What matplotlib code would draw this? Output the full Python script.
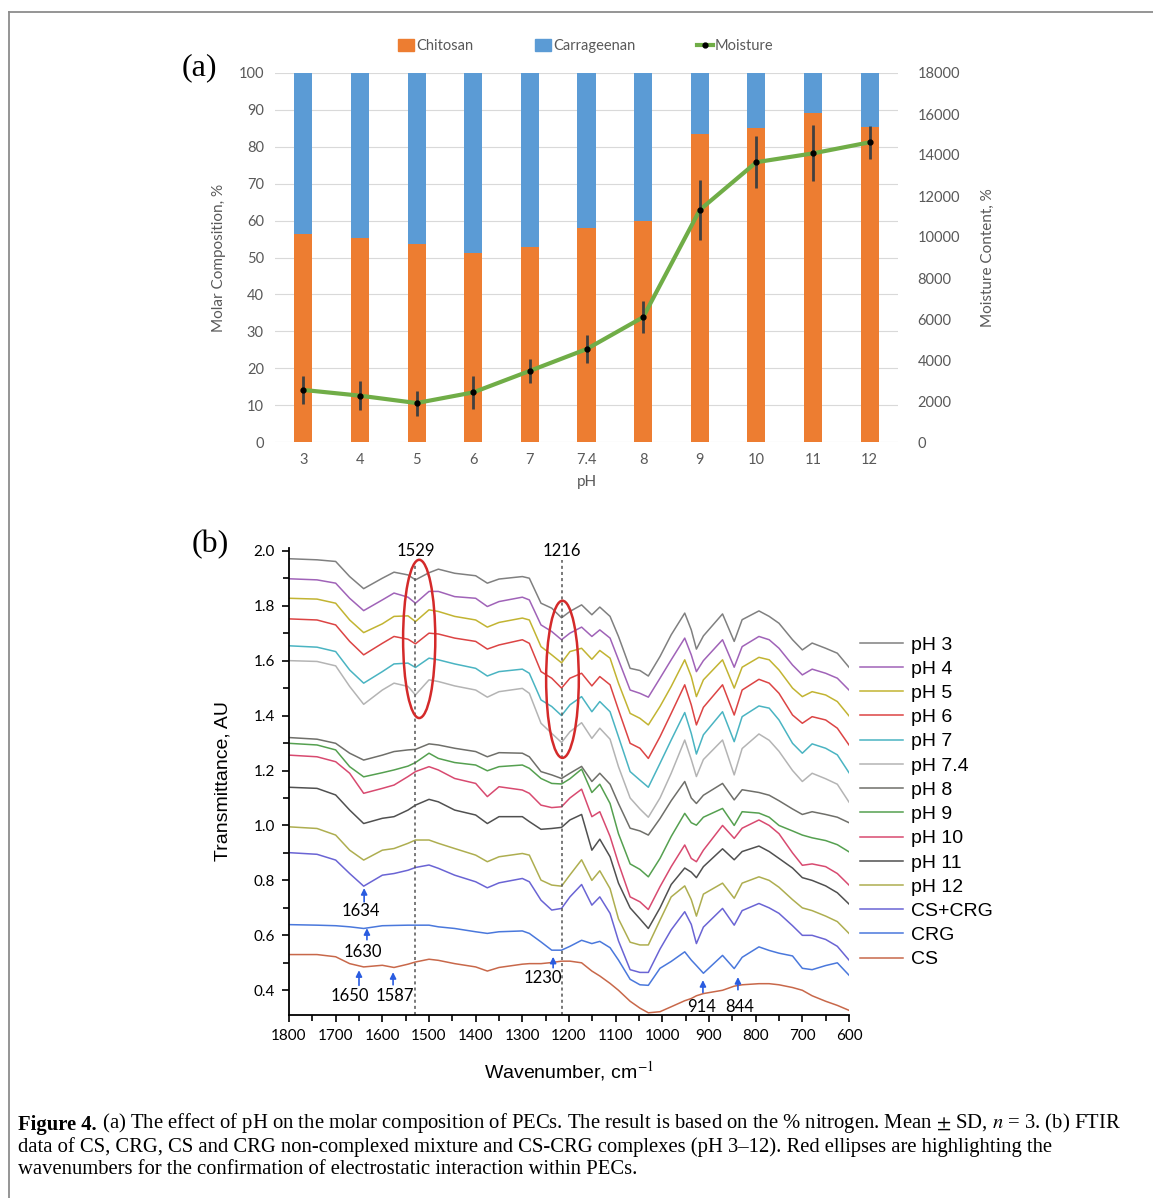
import matplotlib
matplotlib.use("Agg")
from matplotlib import pyplot as plt
from matplotlib.lines import Line2D
from matplotlib.patches import Ellipse, Patch
from matplotlib.ticker import FormatStrFormatter

plt.rcParams["mathtext.fontset"] = "stix"

# ---------- (a) molar composition / moisture ----------
ph_labels = ["3", "4", "5", "6", "7", "7.4", "8", "9", "10", "11", "12"]
chitosan = [56.3, 55.3, 53.6, 51.2, 52.9, 58.1, 60.0, 83.6, 85.2, 89.2, 85.4]
carrageenan = [43.7, 44.7, 46.4, 48.8, 47.1, 41.9, 40.0, 16.4, 14.8, 10.8, 14.6]
moisture = [2540, 2260, 1900, 2420, 3470, 4530, 6090, 11320, 13650, 14080, 14620]
moisture_sd = [670, 720, 610, 790, 570, 700, 780, 1450, 1280, 1370, 800]

# ---------- (b) FTIR spectra ----------
wavenumber = [1800, 1740, 1700, 1670, 1640, 1600, 1575, 1545, 1529, 1500,
              1480, 1445, 1400, 1375, 1350, 1300, 1285, 1260, 1237, 1216,
              1198, 1173, 1151, 1134, 1112, 1094, 1069, 1048, 1030, 1005,
              981, 952, 938, 927, 912, 871, 846, 829, 793, 771,
              750, 721, 700, 679, 650, 625, 600]

ph3 = [1.971, 1.967, 1.961, 1.906, 1.862, 1.900, 1.922, 1.912, 1.894, 1.920,
       1.933, 1.918, 1.909, 1.882, 1.897, 1.906, 1.900, 1.809, 1.791, 1.756,
       1.779, 1.803, 1.767, 1.795, 1.761, 1.688, 1.572, 1.564, 1.544, 1.615,
       1.694, 1.773, 1.712, 1.642, 1.690, 1.770, 1.670, 1.749, 1.781, 1.761,
       1.736, 1.676, 1.639, 1.664, 1.645, 1.627, 1.576]
ph4 = [1.898, 1.894, 1.882, 1.827, 1.782, 1.821, 1.846, 1.831, 1.809, 1.852,
       1.852, 1.833, 1.827, 1.797, 1.815, 1.831, 1.821, 1.730, 1.706, 1.676,
       1.700, 1.722, 1.688, 1.712, 1.682, 1.603, 1.493, 1.481, 1.467, 1.536,
       1.603, 1.682, 1.621, 1.560, 1.600, 1.676, 1.576, 1.651, 1.688, 1.676,
       1.645, 1.584, 1.548, 1.569, 1.554, 1.536, 1.493]
ph5 = [1.827, 1.824, 1.809, 1.748, 1.702, 1.734, 1.761, 1.763, 1.742, 1.785,
       1.779, 1.761, 1.748, 1.722, 1.739, 1.755, 1.748, 1.651, 1.621, 1.592,
       1.633, 1.645, 1.605, 1.637, 1.609, 1.518, 1.408, 1.390, 1.366, 1.433,
       1.506, 1.603, 1.542, 1.469, 1.530, 1.603, 1.500, 1.576, 1.612, 1.603,
       1.566, 1.500, 1.469, 1.487, 1.475, 1.451, 1.399]
ph6 = [1.752, 1.748, 1.730, 1.670, 1.621, 1.663, 1.688, 1.678, 1.661, 1.700,
       1.697, 1.682, 1.670, 1.642, 1.657, 1.676, 1.663, 1.560, 1.536, 1.500,
       1.536, 1.554, 1.508, 1.542, 1.512, 1.421, 1.299, 1.281, 1.244, 1.323,
       1.408, 1.512, 1.439, 1.366, 1.430, 1.512, 1.402, 1.493, 1.532, 1.518,
       1.481, 1.402, 1.372, 1.396, 1.384, 1.354, 1.293]
ph7 = [1.654, 1.649, 1.633, 1.566, 1.518, 1.560, 1.588, 1.591, 1.575, 1.609,
       1.603, 1.588, 1.572, 1.544, 1.560, 1.569, 1.554, 1.457, 1.433, 1.400,
       1.439, 1.469, 1.414, 1.451, 1.414, 1.323, 1.196, 1.165, 1.139, 1.226,
       1.311, 1.411, 1.335, 1.260, 1.330, 1.414, 1.305, 1.396, 1.435, 1.427,
       1.384, 1.299, 1.263, 1.297, 1.281, 1.257, 1.192]
ph74 = [1.600, 1.597, 1.581, 1.506, 1.441, 1.493, 1.518, 1.506, 1.475, 1.530,
        1.524, 1.508, 1.493, 1.467, 1.487, 1.499, 1.481, 1.372, 1.335, 1.302,
        1.341, 1.374, 1.317, 1.354, 1.314, 1.214, 1.100, 1.060, 1.030, 1.100,
        1.190, 1.311, 1.240, 1.178, 1.240, 1.311, 1.184, 1.280, 1.333, 1.310,
        1.270, 1.200, 1.160, 1.190, 1.170, 1.150, 1.085]
ph8 = [1.320, 1.314, 1.299, 1.263, 1.238, 1.256, 1.269, 1.275, 1.277, 1.297,
       1.293, 1.281, 1.269, 1.250, 1.265, 1.263, 1.250, 1.196, 1.184, 1.171,
       1.190, 1.215, 1.160, 1.190, 1.150, 1.080, 0.990, 0.980, 0.965, 1.025,
       1.090, 1.160, 1.100, 1.080, 1.110, 1.153, 1.093, 1.130, 1.120, 1.110,
       1.090, 1.060, 1.040, 1.050, 1.040, 1.030, 1.010]
ph9 = [1.299, 1.293, 1.275, 1.214, 1.177, 1.192, 1.202, 1.216, 1.229, 1.263,
       1.244, 1.229, 1.220, 1.199, 1.214, 1.220, 1.208, 1.171, 1.153, 1.151,
       1.170, 1.205, 1.120, 1.150, 1.080, 0.970, 0.860, 0.840, 0.813, 0.880,
       0.960, 1.044, 1.010, 1.001, 1.030, 1.062, 1.000, 1.050, 1.045, 1.030,
       1.000, 0.980, 0.965, 0.955, 0.945, 0.930, 0.904]
ph10 = [1.256, 1.250, 1.232, 1.190, 1.117, 1.135, 1.147, 1.178, 1.196, 1.214,
        1.202, 1.171, 1.153, 1.105, 1.141, 1.129, 1.117, 1.074, 1.065, 1.068,
        1.100, 1.132, 1.032, 1.050, 0.960, 0.862, 0.740, 0.722, 0.694, 0.777,
        0.850, 0.929, 0.880, 0.868, 0.910, 1.000, 0.953, 0.990, 1.020, 1.000,
        0.970, 0.900, 0.855, 0.860, 0.850, 0.825, 0.783]
ph11 = [1.139, 1.135, 1.111, 1.056, 1.007, 1.026, 1.032, 1.056, 1.074, 1.095,
        1.086, 1.056, 1.038, 1.007, 1.032, 1.032, 1.014, 0.986, 0.989, 0.993,
        1.020, 1.040, 0.910, 0.950, 0.886, 0.790, 0.700, 0.660, 0.625, 0.700,
        0.785, 0.845, 0.830, 0.810, 0.850, 0.915, 0.875, 0.905, 0.925, 0.905,
        0.880, 0.845, 0.810, 0.800, 0.780, 0.755, 0.714]
ph12 = [0.995, 0.989, 0.965, 0.910, 0.874, 0.910, 0.916, 0.935, 0.947, 0.947,
        0.935, 0.916, 0.892, 0.868, 0.886, 0.898, 0.892, 0.801, 0.783, 0.779,
        0.820, 0.875, 0.800, 0.835, 0.770, 0.660, 0.575, 0.565, 0.565, 0.655,
        0.740, 0.780, 0.730, 0.670, 0.750, 0.790, 0.735, 0.790, 0.813, 0.800,
        0.775, 0.730, 0.700, 0.690, 0.670, 0.650, 0.607]
cs_crg = [0.901, 0.895, 0.874, 0.825, 0.779, 0.819, 0.825, 0.837, 0.847, 0.856,
          0.844, 0.819, 0.795, 0.773, 0.791, 0.807, 0.795, 0.728, 0.692, 0.698,
          0.740, 0.785, 0.710, 0.740, 0.680, 0.580, 0.475, 0.465, 0.465, 0.550,
          0.620, 0.686, 0.640, 0.570, 0.630, 0.698, 0.637, 0.690, 0.716, 0.700,
          0.680, 0.635, 0.600, 0.600, 0.585, 0.560, 0.510]
crg = [0.639, 0.637, 0.635, 0.631, 0.625, 0.635, 0.636, 0.637, 0.637, 0.637,
       0.631, 0.625, 0.613, 0.607, 0.613, 0.616, 0.607, 0.576, 0.546, 0.546,
       0.560, 0.582, 0.570, 0.578, 0.555, 0.510, 0.440, 0.420, 0.418, 0.480,
       0.505, 0.540, 0.510, 0.490, 0.462, 0.527, 0.479, 0.520, 0.558, 0.545,
       0.535, 0.525, 0.480, 0.475, 0.490, 0.500, 0.455]
cs = [0.530, 0.530, 0.522, 0.497, 0.485, 0.491, 0.483, 0.495, 0.503, 0.513,
      0.509, 0.497, 0.485, 0.470, 0.483, 0.495, 0.497, 0.497, 0.501, 0.506,
      0.506, 0.500, 0.470, 0.452, 0.425, 0.400, 0.360, 0.335, 0.318, 0.322,
      0.340, 0.362, 0.370, 0.380, 0.388, 0.400, 0.415, 0.420, 0.424, 0.424,
      0.420, 0.410, 0.400, 0.380, 0.360, 0.345, 0.327]

spectra = [
    ("pH 3", ph3, "#808080"),
    ("pH 4", ph4, "#a063b8"),
    ("pH 5", ph5, "#c2b432"),
    ("pH 6", ph6, "#dc4444"),
    ("pH 7", ph7, "#4ab4c2"),
    ("pH 7.4", ph74, "#b4b4b4"),
    ("pH 8", ph8, "#6f6f6a"),
    ("pH 9", ph9, "#55a050"),
    ("pH 10", ph10, "#d84a70"),
    ("pH 11", ph11, "#505050"),
    ("pH 12", ph12, "#aeae50"),
    ("CS+CRG", cs_crg, "#6a64d4"),
    ("CRG", crg, "#4a78dc"),
    ("CS", cs, "#c8684a"),
]

# peak annotations: label, arrow wavenumber, arrow tip, arrow tail, label x, label y
peak_notes = [
    ("1634", 1639, 0.772, 0.722, 1646, 0.688),
    ("1630", 1633, 0.626, 0.584, 1641, 0.540),
    ("1650", 1650, 0.473, 0.418, 1669, 0.378),
    ("1587", 1577, 0.466, 0.420, 1573, 0.378),
    ("1230", 1234, 0.522, 0.482, 1256, 0.444),
    ("914", 913, 0.437, 0.392, 915, 0.338),
    ("844", 838, 0.448, 0.402, 834, 0.338),
]

caption_bold = "Figure 4."
caption_lines = [
    " (a) The effect of pH on the molar composition of PECs. The result is "
    "based on the % nitrogen. Mean $\\pm$ SD, $n$ = 3. (b) FTIR",
    "data of CS, CRG, CS and CRG non-complexed mixture and CS-CRG complexes "
    "(pH 3\u201312). Red ellipses are highlighting the",
    "wavenumbers for the confirmation of electrostatic interaction within PECs.",
]

W, H = 1153, 1198
fig = plt.figure(figsize=(W / 100, H / 100), dpi=100)

grey = "#595959"
font_a = "Lato"

# ----- panel a -----
ax = fig.add_axes([275 / W, 1 - 442 / H, 623 / W, 369 / H])
x = list(range(len(ph_labels)))
ax.bar(x, chitosan, width=0.32, color="#ed7d31", zorder=2)
ax.bar(x, carrageenan, width=0.32, bottom=chitosan, color="#5b9bd5", zorder=2)
ax.set_xlim(-0.5, len(x) - 0.5)
ax.set_ylim(0, 100)
ax.set_yticks(range(0, 101, 10))
ax.set_xticks(x)
ax.set_xticklabels(ph_labels)
ax.grid(axis="y", color="#d9d9d9", lw=0.8, zorder=0)
ax.set_axisbelow(True)
for s in ax.spines.values():
    s.set_visible(False)
ax.tick_params(length=0, labelsize=10.5, labelcolor=grey, pad=8)
for lab in ax.get_xticklabels() + ax.get_yticklabels():
    lab.set_family(font_a)
ax.set_xlabel("pH", fontsize=11, color=grey, family=font_a, labelpad=6)
ax.set_ylabel("Molar Composition, %", fontsize=11, color=grey, family=font_a,
              labelpad=9)

ax2 = ax.twinx()
ax2.set_ylim(0, 18000)
ax2.set_yticks(range(0, 18001, 2000))
for s in ax2.spines.values():
    s.set_visible(False)
ax2.tick_params(length=0, labelsize=10.5, labelcolor=grey, pad=14)
for lab in ax2.get_yticklabels():
    lab.set_family(font_a)
ax2.plot(x, moisture, color="#70ad47", lw=3, zorder=3)
ax2.errorbar(x, moisture, yerr=moisture_sd, fmt="o", color="black", ms=3.5,
             ecolor="#404040", elinewidth=2, capsize=0, zorder=4)
ax2.set_ylabel("Moisture Content, %", fontsize=11, color=grey, family=font_a,
               labelpad=15)

handles = [
    Patch(color="#ed7d31", label="Chitosan"),
    Patch(color="#5b9bd5", label="Carrageenan"),
    Line2D([], [], color="#70ad47", lw=3, marker="o", ms=3.5, mfc="black",
           mec="black", label="Moisture"),
]
fig.legend(handles=handles, loc="center", bbox_to_anchor=(586 / W, 1 - 46 / H),
           ncol=3, frameon=False, handlelength=1.1, handleheight=0.9,
           handletextpad=0.15, columnspacing=4.2,
           prop={"family": font_a, "size": 10.5}, labelcolor=grey)

fig.text(199 / W, 1 - 68 / H, "(a)", family="Liberation Serif", fontsize=23,
         ha="center", va="center")

# ----- panel b -----
bx = fig.add_axes([289 / W, 1 - 1015 / H, 560 / W, 467 / H])
for label, values, color in spectra:
    bx.plot(wavenumber, values, color=color, lw=1.1, label=label)
bx.set_xlim(1800, 600)
bx.set_ylim(0.31, 2.01)
bx.set_xticks(range(1800, 599, -100))
bx.set_xticks(range(1750, 600, -100), minor=True)
bx.set_yticks([0.4, 0.6, 0.8, 1.0, 1.2, 1.4, 1.6, 1.8, 2.0])
bx.set_yticks([0.5, 0.7, 0.9, 1.1, 1.3, 1.5, 1.7, 1.9], minor=True)
bx.yaxis.set_major_formatter(FormatStrFormatter("%.1f"))
bx.spines["top"].set_visible(False)
bx.spines["right"].set_visible(False)
bx.spines["left"].set_linewidth(1.3)
bx.spines["bottom"].set_linewidth(1.3)
bx.tick_params(which="major", direction="out", length=5, width=1.2,
               labelsize=11, pad=5)
bx.tick_params(which="minor", direction="out", length=4, width=1.2)
for lab in bx.get_xticklabels() + bx.get_yticklabels():
    lab.set_family(font_a)
bx.set_xlabel("Wavenumber, cm$^{-1}$", fontsize=14, family="Liberation Sans",
              labelpad=12)
bx.set_ylabel("Transmittance, AU", fontsize=14, family="Liberation Sans",
              labelpad=16)

for wn_line, top in [(1529, 1.955), (1216, 1.965)]:
    bx.vlines(wn_line, 0.31, top, colors="#555555", lw=1.1,
              linestyles=(0, (2, 2)))
    bx.text(wn_line, 2.0, str(wn_line), ha="center", va="center",
            fontsize=12, family=font_a)

bx.add_patch(Ellipse((1521, 1.679), 69, 0.576, fill=False, ec="#d42a2a",
                     lw=1.8, zorder=5))
bx.add_patch(Ellipse((1214, 1.532), 70, 0.572, fill=False, ec="#d42a2a",
                     lw=1.8, zorder=5))

for label, wn_arrow, tip, tail, lx, ly in peak_notes:
    bx.annotate("", xy=(wn_arrow, tip), xytext=(wn_arrow, tail),
                arrowprops=dict(arrowstyle="-|>", color="#2a5ce0", lw=1.2,
                                mutation_scale=9, shrinkA=0, shrinkB=0))
    bx.text(lx, ly, label, ha="center", va="center", fontsize=12,
            family=font_a)

bx.legend(loc="upper left", bbox_to_anchor=(860 / W, 1 - 636 / H),
          bbox_transform=fig.transFigure, frameon=False,
          handlelength=2.2, handletextpad=0.4, labelspacing=0.34,
          borderaxespad=0, borderpad=0,
          prop={"family": "Liberation Sans", "size": 14})

fig.text(210 / W, 1 - 545 / H, "(b)", family="Liberation Serif", fontsize=23,
         ha="center", va="center")

# ----- caption -----
cap_size = 14.9
t0 = fig.text(18 / W, 1 - 1125 / H, caption_bold, family="Liberation Serif",
              fontweight="bold", fontsize=cap_size, va="center")
ax.annotate(caption_lines[0], xy=(1, 0), xycoords=t0, va="bottom",
            family="Liberation Serif", fontsize=cap_size,
            annotation_clip=False)
for i, line in enumerate(caption_lines[1:]):
    fig.text(18 / W, 1 - (1147 + 22 * i) / H, line, family="Liberation Serif",
             fontsize=cap_size, va="center")

# page frame
fig.add_artist(Line2D([9 / W, 9 / W], [0, 1 - 12 / H], transform=fig.transFigure,
                      color="#8c8c8c", lw=1.3))
fig.add_artist(Line2D([9 / W, 1], [1 - 12 / H, 1 - 12 / H],
                      transform=fig.transFigure, color="#8c8c8c", lw=1.3))

fig.savefig("out.png", dpi=100)
